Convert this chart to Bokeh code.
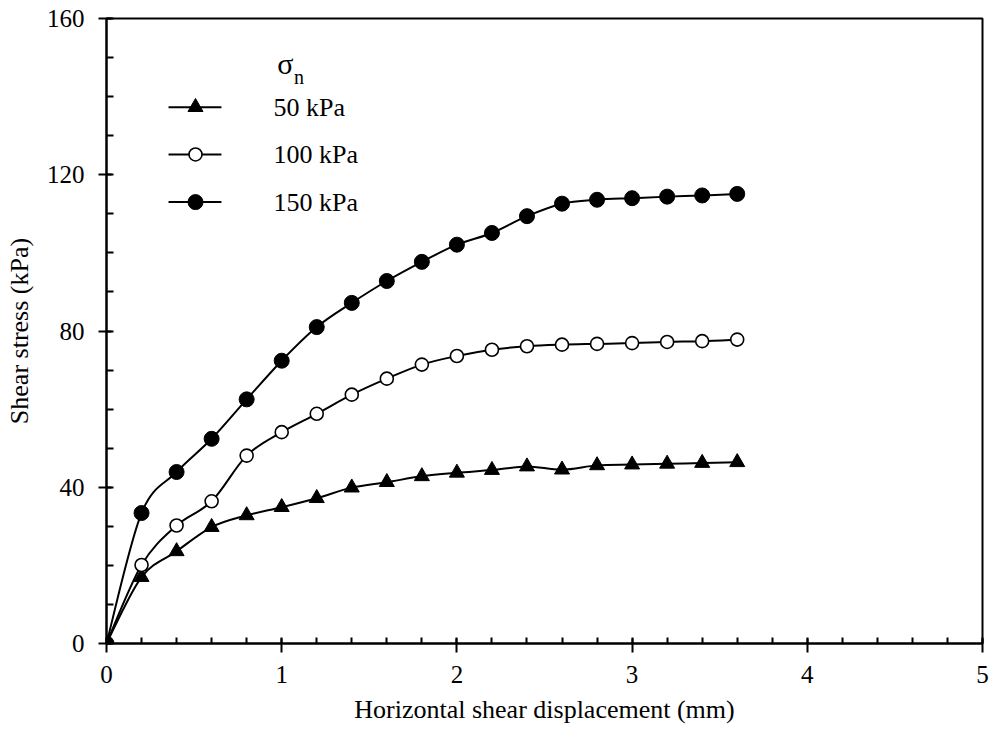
import numpy as np
from bokeh.plotting import figure
from bokeh.models import SingleIntervalTicker, Range1d, ColumnDataSource
from bokeh.embed import file_html
from bokeh.resources import INLINE
from bokeh.core.properties import value

# ---- data ----
disp = [0.0, 0.2, 0.4, 0.6, 0.8, 1.0, 1.2, 1.4, 1.6, 1.8, 2.0,
        2.2, 2.4, 2.6, 2.8, 3.0, 3.2, 3.4, 3.6]
tau_50 = [0.0, 17.0, 23.6, 29.8, 32.8, 34.9, 37.2, 39.9, 41.3, 42.8, 43.7,
          44.4, 45.3, 44.5, 45.6, 45.8, 46.0, 46.2, 46.4]
tau_100 = [0.0, 20.1, 30.2, 36.4, 48.1, 54.1, 58.8, 63.7, 67.8, 71.4, 73.6,
           75.2, 76.1, 76.5, 76.7, 76.9, 77.2, 77.4, 77.8]
tau_150 = [0.0, 33.4, 43.9, 52.4, 62.5, 72.4, 81.0, 87.2, 92.8, 97.7, 102.1,
           105.1, 109.4, 112.6, 113.6, 114.0, 114.4, 114.7, 115.1]
series_labels = ["50 kPa", "100 kPa", "150 kPa"]
legend_title = "σ"
legend_sub = "n"
x_label = "Horizontal shear displacement (mm)"
y_label = "Shear stress (kPa)"

FONT = "Liberation Serif"

p = figure(width=992, height=733, output_backend="svg", toolbar_location=None,
           x_range=Range1d(0, 5), y_range=Range1d(0, 160),
           min_border_left=106, min_border_right=10, min_border_top=18,
           min_border_bottom=90)
p.grid.visible = False
p.outline_line_color = "black"
p.outline_line_width = 2
p.background_fill_color = "white"
p.border_fill_color = "white"

# axes
p.xaxis.ticker = SingleIntervalTicker(interval=1, num_minor_ticks=5)
p.yaxis.ticker = SingleIntervalTicker(interval=40, num_minor_ticks=4)
for ax in (p.xaxis[0], p.yaxis[0]):
    ax.axis_line_width = 2
    ax.axis_line_color = "black"
    ax.major_tick_line_width = 2
    ax.minor_tick_line_width = 2
    ax.major_tick_line_color = "black"
    ax.minor_tick_line_color = "black"
    ax.major_label_text_font = FONT
    ax.major_label_text_font_size = "25px"
    ax.major_label_text_color = "black"
    ax.axis_label_text_font = FONT
    ax.axis_label_text_font_size = "26px"
    ax.axis_label_text_font_style = "normal"
    ax.axis_label_text_color = "black"
p.xaxis.major_tick_in = 5
p.xaxis.major_tick_out = 9
p.xaxis.minor_tick_in = 6
p.xaxis.minor_tick_out = 0
p.xaxis.major_label_standoff = 13
p.xaxis.axis_label_standoff = 9
p.yaxis.major_tick_in = 5
p.yaxis.major_tick_out = 8
p.yaxis.minor_tick_in = 7
p.yaxis.minor_tick_out = 0
p.yaxis.major_label_standoff = 14
p.yaxis.axis_label_standoff = 10
p.xaxis.axis_label = x_label
p.yaxis.axis_label = y_label


def smooth_segments(xs, ys):
    """Cubic Bezier pieces through the data points (spreadsheet-style smoothing)."""
    xs = np.asarray(xs, float)
    ys = np.asarray(ys, float)
    n = len(xs)
    x0, y0, x1, y1, cx0, cy0, cx1, cy1 = [], [], [], [], [], [], [], []
    for i in range(n - 1):
        im = max(i - 1, 0)
        ip2 = min(i + 2, n - 1)
        x0.append(xs[i]); y0.append(ys[i])
        x1.append(xs[i + 1]); y1.append(ys[i + 1])
        cx0.append(xs[i] + (xs[i + 1] - xs[im]) / 6.0)
        cy0.append(ys[i] + (ys[i + 1] - ys[im]) / 6.0)
        cx1.append(xs[i + 1] - (xs[ip2] - xs[i]) / 6.0)
        cy1.append(ys[i + 1] - (ys[ip2] - ys[i]) / 6.0)
    return ColumnDataSource(dict(x0=x0, y0=y0, x1=x1, y1=y1,
                                 cx0=cx0, cy0=cy0, cx1=cx1, cy1=cy1))


styles = [
    dict(marker="triangle", size=15, fill_color="black", line_width=1),
    dict(marker="circle", size=13, fill_color="white", line_width=1.6),
    dict(marker="circle", size=15, fill_color="black", line_width=1),
]
all_tau = [tau_50, tau_100, tau_150]

for tau, st in zip(all_tau, styles):
    src = smooth_segments(disp, tau)
    p.bezier(x0="x0", y0="y0", x1="x1", y1="y1", cx0="cx0", cy0="cy0",
             cx1="cx1", cy1="cy1", source=src, line_color="black", line_width=2)
for tau, st in zip(all_tau, styles):
    p.scatter(disp, tau, marker=st["marker"], size=st["size"],
              fill_color=st["fill_color"], line_color="black",
              line_width=st["line_width"])

# ---- legend (drawn manually) ----
leg_x0, leg_x1, leg_xm, leg_tx = 0.354, 0.656, 0.508, 0.953
leg_rows = [137.3, 125.2, 113.0]
for yy, st, lab in zip(leg_rows, styles, series_labels):
    p.segment(x0=[leg_x0], y0=[yy], x1=[leg_x1], y1=[yy],
              line_color="black", line_width=2)
    p.scatter([leg_xm], [yy], marker=st["marker"], size=st["size"],
              fill_color=st["fill_color"], line_color="black",
              line_width=st["line_width"])
    p.text([leg_tx], [yy], text=[lab], text_font=value(FONT),
           text_font_size="26px", text_baseline="middle", text_align="left",
           text_color="black")

p.text([0.975], [148.6], text=[legend_title], text_font=value(FONT),
       text_font_size="30px", text_baseline="middle", text_align="left",
       text_color="black")
p.text([1.07], [145.0], text=[legend_sub], text_font=value(FONT),
       text_font_size="20px", text_baseline="middle", text_align="left",
       text_color="black")

open("out.html", "w").write(file_html(p, INLINE))
